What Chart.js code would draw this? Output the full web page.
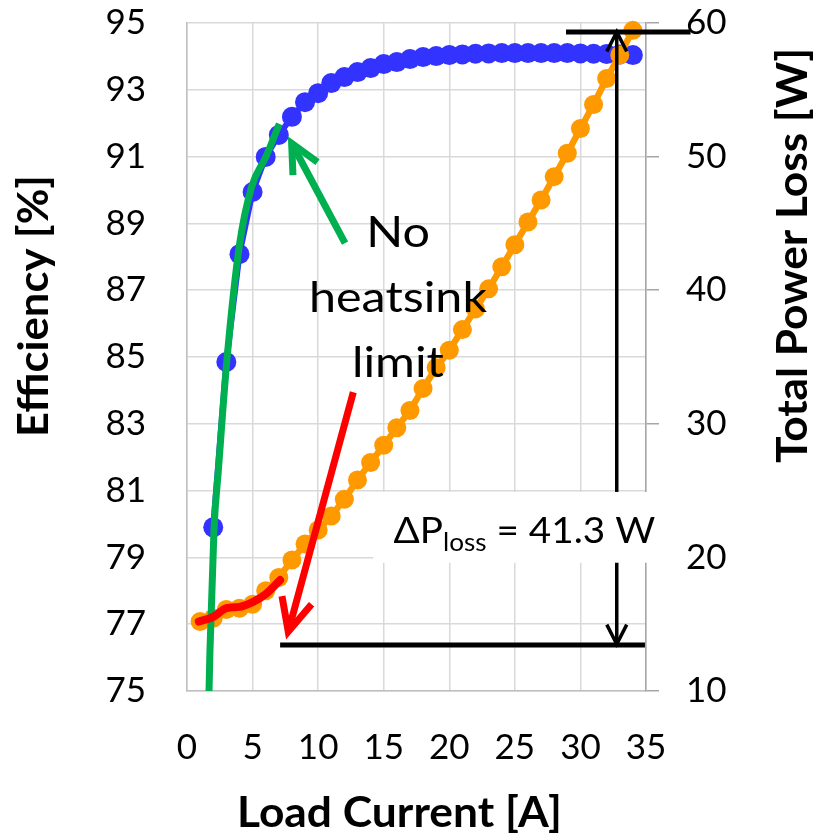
<!DOCTYPE html>
<html>
<head>
<meta charset="utf-8">
<script src="https://cdn.jsdelivr.net/npm/chart.js@4.4.1/dist/chart.umd.min.js"></script>
<style>
html,body{margin:0;padding:0;background:#ffffff;overflow:hidden;}
#wrap{position:relative;width:817px;height:837px;}
</style>
</head>
<body>
<div id="wrap"><canvas id="chart" width="817" height="837"></canvas></div>
<script>
// ---------------- data ----------------
const loadCurrent = [1,2,3,4,5,6,7,8,9,10,11,12,13,14,15,16,17,18,19,20,21,22,23,24,25,26,27,28,29,30,31,32,33,34];
const efficiency  = [null,79.9,84.85,88.08,89.94,90.99,91.65,92.19,92.63,92.9,93.2,93.38,93.53,93.65,93.77,93.83,93.92,93.98,94.01,94.04,94.06,94.08,94.09,94.1,94.1,94.1,94.1,94.1,94.1,94.09,94.08,94.07,94.06,94.04];
const powerLoss   = [15.2,15.45,16.1,16.2,16.5,17.5,18.5,19.8,21.0,22.05,23.1,24.35,25.8,27.1,28.4,29.7,31.0,32.65,34.2,35.5,37.05,38.6,40.1,41.75,43.4,45.1,46.75,48.5,50.25,52.1,53.9,55.85,57.6,59.45];

const noSinkEffCurrent  = [1.68,1.75,2.06,2.39,3.03,4.0,4.93,6.02,7.04];
const noSinkEfficiency  = [75,76.2,79.85,81.6,84.85,88.35,90.1,91.0,91.98];
const noSinkLossCurrent = [0.9,2,3,4,5,6,7.1];
const noSinkLoss        = [15.2,15.55,16.2,16.3,16.65,17.25,18.3];

const xTicks    = [0,5,10,15,20,25,30,35];
const effTicks  = [75,77,79,81,83,85,87,89,91,93,95];
const lossTicks = [10,20,30,40,50,60];

const xTitle  = 'Load Current [A]';
const yTitle  = 'Efficiency [%]';
const y1Title = 'Total Power Loss [W]';
const noteLines  = ['No','heatsink','limit'];
const deltaLabel = ['\u0394P','loss',' = 41.3 W'];

// annotation anchors in data units (x: A, y: % on "y" or W on "y1")
const ANN = {
  greenArrow: {axis:'y',  from:[12.05,88.41], to:[7.98,91.40]},
  redArrow:   {axis:'y1', from:[12.68,32.36], to:[7.72,14.44]},
  topLine:    {axis:'y1', x:[28.9,38.4], y:59.33},
  bottomLine: {axis:'y1', x:[7.1,34.92], y:13.44},
  deltaArrow: {axis:'y1', x:32.77, y:[59.33,13.5]},
  labelBox:   {axis:'y1', x:[14.2,36.4], y:[19.6,24.9]},
  labelText:  {axis:'y1', x:[15.75,35.7], y:21.08},
  note:       {axis:'y',  x:16.09, y:[88.3,86.35,84.4]}
};

// ---------------- styles ----------------
const FONT = 'Lato, "Open Sans", "DejaVu Sans", sans-serif';
const BLUE = '#3333ff', ORANGE = '#ff9900', GREEN = '#00b050', RED = '#ff0000';
const GRID = '#d9d9d9';

const pts = (xs, ys) => xs.map((x,i)=>({x, y: ys[i]})).filter(p => p.y !== null);

function drawArrow(c, x1,y1,x2,y2, headLen, headAng, both){
  c.beginPath(); c.moveTo(x1,y1); c.lineTo(x2,y2); c.stroke();
  const head = (tx,ty,fx,fy) => {
    const a = Math.atan2(fy-ty, fx-tx);
    c.beginPath();
    c.moveTo(tx+headLen*Math.cos(a+headAng), ty+headLen*Math.sin(a+headAng));
    c.lineTo(tx,ty);
    c.lineTo(tx+headLen*Math.cos(a-headAng), ty+headLen*Math.sin(a-headAng));
    c.stroke();
  };
  head(x2,y2,x1,y1);
  if (both) head(x1,y1,x2,y2);
}

function fitText(c, text, x, y, font, targetW, align, rot){
  c.save();
  c.font = font;
  const w = c.measureText(text).width;
  c.translate(x, y);
  if (rot) c.rotate(rot);
  c.scale(targetW / w, 1);
  c.textAlign = align;
  c.textBaseline = 'alphabetic';
  c.fillText(text, 0, 0);
  c.restore();
}

const annotate = {
  id: 'annotate',
  afterDatasetsDraw(chart){
    const c = chart.ctx, X = chart.scales.x;
    const px = v => X.getPixelForValue(v);
    const py = (ax, v) => chart.scales[ax].getPixelForValue(v);
    c.save();
    c.lineCap = 'butt'; c.lineJoin = 'miter';

    // green arrow
    let a = ANN.greenArrow;
    c.strokeStyle = GREEN; c.lineWidth = 7;
    drawArrow(c, px(a.from[0]), py(a.axis,a.from[1]), px(a.to[0]), py(a.axis,a.to[1]), 32, 0.45, false);

    // red arrow
    a = ANN.redArrow;
    c.strokeStyle = RED; c.lineWidth = 7;
    drawArrow(c, px(a.from[0]), py(a.axis,a.from[1]), px(a.to[0]), py(a.axis,a.to[1]), 36, 0.44, false);

    // black reference lines
    c.strokeStyle = '#000'; c.lineWidth = 5;
    a = ANN.topLine;
    c.beginPath(); c.moveTo(px(a.x[0]), py(a.axis,a.y)); c.lineTo(px(a.x[1]), py(a.axis,a.y)); c.stroke();
    a = ANN.bottomLine;
    c.beginPath(); c.moveTo(px(a.x[0]), py(a.axis,a.y)); c.lineTo(px(a.x[1]), py(a.axis,a.y)); c.stroke();

    // vertical double arrow
    a = ANN.deltaArrow;
    c.lineWidth = 3.5;
    drawArrow(c, px(a.x), py(a.axis,a.y[1]), px(a.x), py(a.axis,a.y[0]), 22, 0.47, true);

    // white label box
    a = ANN.labelBox;
    const bx0 = px(a.x[0]), bx1 = px(a.x[1]), by0 = py(a.axis,a.y[1]), by1 = py(a.axis,a.y[0]);
    c.fillStyle = '#ffffff';
    c.fillRect(bx0, by0, bx1-bx0, by1-by0);

    // delta label
    a = ANN.labelText;
    const lx0 = px(a.x[0]), lx1 = px(a.x[1]), ly = py(a.axis,a.y);
    const mainFont = '37px ' + FONT, subFont = '25px ' + FONT;
    c.font = mainFont; const w1 = c.measureText(deltaLabel[0]).width;
    c.font = subFont;  const w2 = c.measureText(deltaLabel[1]).width;
    c.font = mainFont; const w3 = c.measureText(deltaLabel[2]).width;
    const s = (lx1 - lx0) / (w1 + w2 + w3);
    c.fillStyle = '#000';
    c.save(); c.translate(lx0, ly); c.scale(s,1); c.textBaseline = 'alphabetic'; c.textAlign = 'left';
    c.font = mainFont; c.fillText(deltaLabel[0], 0, 0);
    c.font = subFont;  c.fillText(deltaLabel[1], w1, 8.5);
    c.font = mainFont; c.fillText(deltaLabel[2], w1 + w2, 0);
    c.restore();

    // note text
    a = ANN.note;
    const nFont = '43px ' + FONT;
    c.font = nFont;
    const ns = 178 / c.measureText(noteLines[1]).width;
    noteLines.forEach((t, i) => {
      c.save(); c.translate(px(a.x), py(a.axis, a.y[i])); c.scale(ns, 1);
      c.textAlign = 'center'; c.textBaseline = 'alphabetic'; c.font = nFont; c.fillStyle = '#000';
      c.fillText(t, 0, 0); c.restore();
    });
    c.restore();
  },
  afterDraw(chart){
    const c = chart.ctx;
    c.fillStyle = '#000';
    const tFont = 'bold 42px ' + FONT;
    fitText(c, xTitle, 237, 827, tFont, 325, 'left', 0);
    fitText(c, yTitle, 48, 437, tFont, 262, 'left', -Math.PI/2);
    fitText(c, y1Title, 807, 463, tFont, 415, 'left', -Math.PI/2);
  }
};

Chart.defaults.font.family = FONT;
Chart.defaults.color = '#000';

const tickFont = {size: 35, family: FONT};
const noPad = s => { s.paddingTop = 0; s.paddingBottom = 0; s.paddingLeft = 0; s.paddingRight = 0; };

new Chart(document.getElementById('chart'), {
  type: 'scatter',
  data: {
    datasets: [
      { label: 'Efficiency', yAxisID: 'y', data: pts(loadCurrent, efficiency), showLine: true,
        borderColor: BLUE, backgroundColor: BLUE, borderWidth: 6,
        pointRadius: 10, pointBorderWidth: 0, pointBackgroundColor: BLUE, order: 4, clip: 12 },
      { label: 'Total Power Loss', yAxisID: 'y1', data: pts(loadCurrent, powerLoss), showLine: true,
        borderColor: ORANGE, backgroundColor: ORANGE, borderWidth: 6.5,
        pointRadius: 9.5, pointBorderWidth: 0, pointBackgroundColor: ORANGE, order: 3, clip: 12 },
      { label: 'Efficiency (no heatsink)', yAxisID: 'y', data: pts(noSinkEffCurrent, noSinkEfficiency), showLine: true,
        borderColor: GREEN, borderWidth: 7, pointRadius: 0, cubicInterpolationMode: 'monotone', order: 2 },
      { label: 'Power loss (no heatsink)', yAxisID: 'y1', data: pts(noSinkLossCurrent, noSinkLoss), showLine: true,
        borderColor: RED, borderWidth: 8, pointRadius: 0, cubicInterpolationMode: 'monotone', borderCapStyle: 'round', order: 1 }
    ]
  },
  options: {
    responsive: false,
    animation: false,
    devicePixelRatio: 1,
    layout: { padding: { top: 23, left: 0, right: 0, bottom: 0 } },
    plugins: { legend: { display: false }, tooltip: { enabled: false } },
    scales: {
      x: {
        type: 'linear', min: 0, max: 35,
        afterBuildTicks: s => { s.ticks = xTicks.map(v => ({value: v})); },
        afterFit: s => { s.height = 146; noPad(s); },
        ticks: { font: tickFont, color: '#000', padding: 36, maxRotation: 0 },
        grid: { color: GRID, lineWidth: 1.5, drawTicks: false },
        border: { color: '#bfbfbf', width: 1.5 }
      },
      y: {
        position: 'left', min: 75, max: 95,
        afterBuildTicks: s => { s.ticks = effTicks.map(v => ({value: v})); },
        afterFit: s => { s.width = 187; noPad(s); },
        ticks: { font: tickFont, color: '#000', padding: 41 },
        grid: { color: GRID, lineWidth: 1.5, drawTicks: false },
        border: { color: '#bfbfbf', width: 1.5 }
      },
      y1: {
        position: 'right', min: 10, max: 60,
        afterBuildTicks: s => { s.ticks = lossTicks.map(v => ({value: v})); },
        afterFit: s => { s.width = 171; noPad(s); },
        ticks: { font: tickFont, color: '#000', padding: 27 },
        grid: { drawOnChartArea: false, drawTicks: true, tickLength: 13, color: '#a6a6a6', lineWidth: 1.5 },
        border: { color: '#a6a6a6', width: 1.5 }
      }
    }
  },
  plugins: [annotate]
});
</script>
</body>
</html>
